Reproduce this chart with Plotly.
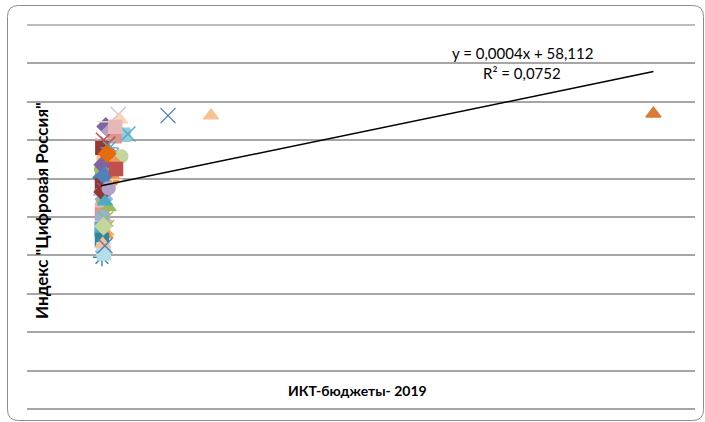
import plotly.graph_objects as go

# ICT budgets 2019 vs "Digital Russia" index, one marker per region
budget = [2300, 2550, 600, 1300, 3000, 3600, 1800, 900, 300, 250,
          350, 2700, 350, 1500, 900, 1400, 150, 200, 50, 1200,
          1500, 1500, 100, 350, 150, 350, 100, 150, 100, 1000,
          350, 50, 700, 600, 100, 300, 100, 350, 900, 0,
          200, 700, 400, 200, 500, 200, 600, 300, 200, 500,
          1900, 1100, 2000, 800, 1000,
          9000, 14800, 74400]
index = [76.7, 75.3, 73.6, 72.4, 71.4, 71.6, 71.0, 74.8, 70.0, 68.6,
         67.0, 65.8, 64.9, 64.2, 63.4, 66.0, 68.0, 62.0, 60.3, 61.8,
         59.8, 59.8, 58.3, 57.2, 55.8, 54.7, 53.0, 51.8, 50.6, 52.5,
         48.8, 46.8, 47.2, 45.4, 44.0, 41.6, 39.5, 40.5, 69.0, 62.5,
         63.6, 61.0, 60.8, 56.5, 54.0, 50.0, 49.5, 47.6, 43.0, 42.5,
         73.5, 68.0, 62.5, 66.5, 57.5,
         76.4, 76.4, 76.9]

# trendline reported by the regression
slope = 0.0004
intercept = 58.112
r_squared = 0.0752

# marker style for each region (symbol, colour)
styles = [
    ("x-thin-open", "#CCC1DA"), ("triangle-up", "#FCD5B5"), ("diamond", "#8064A2"),
    ("diamond", "#B3A2C7"), ("square", "#93CDDD"), ("x-thin-open", "#4BACC6"),
    ("square", "#D99694"), ("line-ew-open", "#D7E4BD"), ("x-thin-open", "#C0504D"),
    ("x-thin-open", "#E6B9B8"), ("circle", "#FCD5B5"), ("circle", "#C3D69B"),
    ("square", "#FAC090"), ("diamond", "#F79646"), ("cross-thin-open", "#8064A2"),
    ("x-thin-open", "#D99694"), ("square", "#953735"), ("triangle-up", "#9BBB59"),
    ("diamond", "#4F81BD"), ("line-ew-open", "#953735"), ("circle", "#F79646"),
    ("cross-thin-open", "#FCD5B5"), ("square", "#953735"), ("asterisk-open", "#8064A2"),
    ("asterisk-open", "#95B3D7"), ("diamond", "#95B3D7"), ("circle", "#9BBB59"),
    ("square", "#E6B9B8"), ("square", "#D99694"), ("triangle-up", "#9BBB59"),
    ("diamond", "#CCC1DA"), ("square", "#4BACC6"), ("x-thin-open", "#F79646"),
    ("triangle-up", "#F79646"), ("square", "#31859C"), ("square", "#B7DEE8"),
    ("asterisk-open", "#31859C"), ("square", "#B7DEE8"), ("x-thin-open", "#C0504D"),
    ("circle", "#9BBB59"), ("diamond", "#8064A2"), ("triangle-up", "#F79646"),
    ("diamond", "#4F81BD"), ("diamond", "#953735"), ("triangle-up", "#4BACC6"),
    ("circle", "#95B3D7"), ("x-thin-open", "#9BBB59"), ("diamond", "#C3D69B"),
    ("triangle-up", "#FAC090"), ("x-thin-open", "#4F81BD"),
    ("square", "#E6B9B8"), ("asterisk-open", "#4BACC6"), ("square", "#C0504D"),
    ("diamond", "#E46C0A"), ("circle", "#B3A2C7"),
    ("x-thin-open", "#4F81BD"), ("triangle-up", "#FAC090"), ("triangle-up", "#DA7B36"),
]
symbols = [s for s, _ in styles]
colors = [c for _, c in styles]
sizes = [15 if s.endswith("open") else 13 for s in symbols]

W, H = 705, 422
ML, MR, MT, MB = 27, 10, 25, 13
PW, PH = W - ML - MR, H - MT - MB


def px(x):
    return (x - ML) / PW


def py(y):
    return (H - MB - y) / PH


fig = go.Figure()

fig.add_trace(go.Scatter(
    x=budget, y=index, mode="markers",
    marker=dict(symbol=symbols, color=colors, size=sizes, opacity=1,
                line=dict(color=colors, width=1.4)),
    hoverinfo="x+y", showlegend=False,
))

x0, x1 = min(budget), max(budget)
fig.add_trace(go.Scatter(
    x=[x0, x1], y=[slope * x0 + intercept, slope * x1 + intercept],
    mode="lines", line=dict(color="black", width=1.5),
    hoverinfo="skip", showlegend=False,
))


def fmt(v, nd):
    return f"{v:.{nd}f}".replace(".", ",")


font = "Lato, Liberation Sans, sans-serif"
common = dict(xref="paper", yref="paper", showarrow=False,
              xanchor="center", yanchor="middle")
annotations = [
    dict(text=f"y = {fmt(slope, 4)}x + {fmt(intercept, 3)}", x=px(522), y=py(53),
         font=dict(family=font, size=15, color="black"), **common),
    dict(text=f"R² = {fmt(r_squared, 4)}", x=px(522), y=py(73),
         font=dict(family=font, size=15, color="black"), **common),
    dict(text="<b>ИКТ-бюджеты- 2019</b>", x=px(357), y=py(390),
         font=dict(family=font, size=14, color="black"), **common),
    dict(text="<b>Индекс \"Цифровая Россия\"</b>", x=px(41), y=py(211), textangle=-90,
         font=dict(family=font, size=17, color="black"), **common),
]

# rounded chart border
L, T, R, B, r = 7.5, 5.5, 703.5, 420.5, 11
path = (f"M {px(L + r)},{py(T)} L {px(R - r)},{py(T)} Q {px(R)},{py(T)} {px(R)},{py(T + r)} "
        f"L {px(R)},{py(B - r)} Q {px(R)},{py(B)} {px(R - r)},{py(B)} "
        f"L {px(L + r)},{py(B)} Q {px(L)},{py(B)} {px(L)},{py(B - r)} "
        f"L {px(L)},{py(T + r)} Q {px(L)},{py(T)} {px(L + r)},{py(T)} Z")

grid = dict(color="#A6A6A6", width=1.5)

fig.update_layout(
    width=W, height=H,
    margin=dict(l=ML, r=MR, t=MT, b=MB),
    paper_bgcolor="white", plot_bgcolor="white",
    xaxis=dict(range=[-10000, 80000], showgrid=False, zeroline=False,
               showticklabels=False, ticks="", showline=False),
    yaxis=dict(range=[0, 100], dtick=10, showgrid=True, gridcolor=grid["color"],
               gridwidth=grid["width"], zeroline=True, zerolinecolor=grid["color"],
               zerolinewidth=grid["width"], showticklabels=False, ticks="", showline=False),
    annotations=annotations,
    shapes=[
        dict(type="path", path=path, xref="paper", yref="paper",
             line=dict(color="#8C8C8C", width=1), layer="below"),
        # top gridline sits on the plot edge, so draw it unclipped
        dict(type="line", xref="paper", yref="paper", x0=0, x1=1, y0=1, y1=1,
             line=grid, layer="above"),
    ],
)

fig.write_html("out.html")
